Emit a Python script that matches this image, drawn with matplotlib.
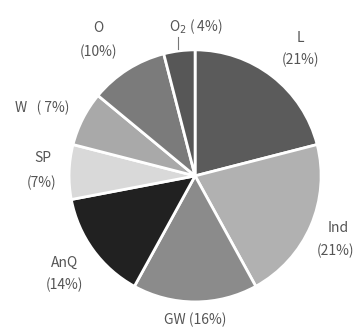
import matplotlib.pyplot as plt

plt.rcParams['font.family'] = ['Noto Sans CJK SC', 'DejaVu Sans']

# slice data, clockwise from 12 o'clock
names = ['L', 'Ind', 'GW', 'AnQ', 'SP', 'W', 'O', 'O$_2$']
shares = [21, 21, 16, 14, 7, 7, 10, 4]
colors = ['#5b5b5b', '#b1b1b1', '#8b8b8b', '#212121', '#d9d9d9', '#a9a9a9', '#7b7b7b', '#575757']

fig = plt.figure(figsize=(3.56, 3.30), dpi=100)
ax = fig.add_axes([0.194, 0.085, 0.708, 0.764])
ax.pie(shares, colors=colors, startangle=90, counterclock=False,
       wedgeprops=dict(edgecolor='white', linewidth=2))
ax.set_xlim(-1, 1)
ax.set_ylim(-1, 1)
ax.set_aspect('equal')


def px(x, y):
    # pixel position in the picture -> data coords of the pie
    return (x - 195) / 126, (176 - y) / 126


txt = dict(ha='center', va='center', fontsize=10, color='#555555', clip_on=False)
labels = [
    ('L', 300, 38), ('(21%)', 300, 60),
    ('Ind', 338, 228), ('(21%)', 335, 251),
    ('GW (16%)', 195, 320),
    ('AnQ', 64, 263), ('(14%)', 64, 285),
    ('SP', 43, 158), ('(7%)', 42, 183),
    ('W   ( 7%)', 42, 108),
    ('O', 98, 28), ('(10%)', 98, 52),
    ('O$_2$ ( 4%)', 196, 27),
]
for s, x, y in labels:
    ax.text(*px(x, y), s, **txt)

x0, y0 = px(178, 37)
x1, y1 = px(178, 49)
ax.plot([x0, x1], [y0, y1], color='#777777', lw=0.8, clip_on=False)

fig.savefig('out.png', dpi=100)
